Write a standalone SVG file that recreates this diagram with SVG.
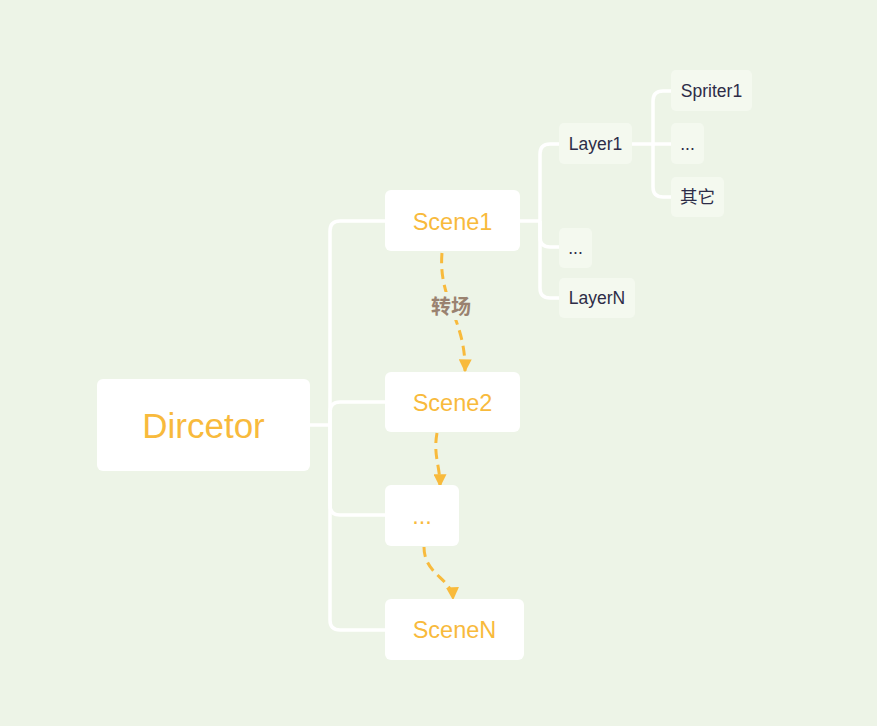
<svg xmlns="http://www.w3.org/2000/svg" width="877" height="726" viewBox="0 0 877 726">
<defs>
<style>
.bg{fill:#EDF4E7}
.main{fill:#FFFFFF}
.sub{fill:#F4F9EF}
.tl{fill:#F8BA3C;font-family:"Liberation Sans",Arial,sans-serif;text-anchor:middle}
.ts{fill:#2D2C47;font-family:"Liberation Sans","Noto Sans CJK SC",sans-serif;font-size:17.5px;text-anchor:middle}
.link{fill:none;stroke:#FFFFFF;stroke-width:3.5}
.flow{fill:none;stroke:#F8BA3C;stroke-width:3;stroke-dasharray:10 6}
.lab{fill:#9A8270;font-family:"Noto Sans CJK SC",sans-serif;font-size:20px;font-weight:bold;text-anchor:middle}
</style>
<marker id="ah" viewBox="0 0 10 10" refX="9" refY="5" markerWidth="13" markerHeight="13" markerUnits="userSpaceOnUse" orient="auto">
<path d="M0,0 L10,5 L0,10 z" fill="#F8BA3C"/>
</marker>
</defs>
<rect class="bg" x="0" y="0" width="877" height="726"/>
<g id="connectors">
<path class="link" d="M309,425 H330"/>
<path class="link" d="M330,425 V231 Q330,221 340,221 H386"/>
<path class="link" d="M330,425 V412 Q330,402 340,402 H386"/>
<path class="link" d="M330,425 V505 Q330,515 340,515 H386"/>
<path class="link" d="M330,425 V620 Q330,630 340,630 H386"/>
<path class="link" d="M519,221 H540"/>
<path class="link" d="M540,221 V154 Q540,144 550,144 H560"/>
<path class="link" d="M540,221 V237 Q540,247 550,247 H560"/>
<path class="link" d="M540,221 V288 Q540,298 550,298 H560"/>
<path class="link" d="M631,144 H653"/>
<path class="link" d="M653,144 V101 Q653,91 663,91 H672"/>
<path class="link" d="M653,144 H672"/>
<path class="link" d="M653,144 V187 Q653,197 663,197 H672"/>
<path class="flow" d="M442,253 C438,300 466,320 465,371" marker-end="url(#ah)"/>
<path class="flow" d="M437,433 C433,455 440,465 440,486" marker-end="url(#ah)"/>
<path class="flow" d="M424,547 C424,575 452,578 453,599" marker-end="url(#ah)"/>
<rect class="bg" x="427" y="292" width="48" height="28"/>
<text class="lab" x="451" y="314">转场</text>
</g>
<g id="director">
<rect class="main" x="97" y="379" width="213" height="92" rx="6"/>
<text class="tl" x="203.5" y="437.5" font-size="35">Dircetor</text>
</g>
<g id="scene1">
<rect class="main" x="385" y="190" width="135" height="61" rx="6"/>
<text class="tl" x="452.5" y="229.5" font-size="23.5">Scene1</text>
</g>
<g id="scene2">
<rect class="main" x="385" y="372" width="135" height="60" rx="6"/>
<text class="tl" x="452.5" y="410.5" font-size="23.5">Scene2</text>
</g>
<g id="scene-more">
<rect class="main" x="385" y="485" width="74" height="61" rx="6"/>
<text class="tl" x="422" y="524" font-size="23.5">...</text>
</g>
<g id="sceneN">
<rect class="main" x="385" y="599" width="139" height="61" rx="6"/>
<text class="tl" x="454.5" y="637.5" font-size="23.5">SceneN</text>
</g>
<g id="layer1">
<rect class="sub" x="559" y="123" width="73" height="41" rx="5"/>
<text class="ts" x="595.5" y="150">Layer1</text>
</g>
<g id="layer-more">
<rect class="sub" x="559" y="228" width="33" height="40" rx="5"/>
<text class="ts" x="575.5" y="254">...</text>
</g>
<g id="layerN">
<rect class="sub" x="559" y="278" width="76" height="40" rx="5"/>
<text class="ts" x="597" y="304">LayerN</text>
</g>
<g id="spriter1">
<rect class="sub" x="671" y="70" width="81" height="41" rx="5"/>
<text class="ts" x="711.5" y="97">Spriter1</text>
</g>
<g id="sprite-more">
<rect class="sub" x="671" y="123" width="33" height="41" rx="5"/>
<text class="ts" x="687.5" y="150">...</text>
</g>
<g id="other">
<rect class="sub" x="671" y="177" width="53" height="40" rx="5"/>
<text class="ts" x="697.5" y="203">其它</text>
</g>
</svg>
